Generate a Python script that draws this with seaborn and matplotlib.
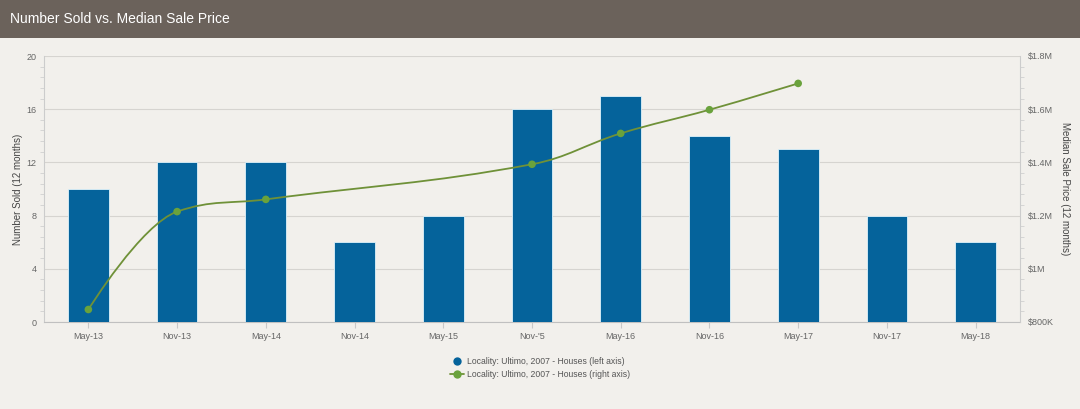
import numpy as np
import pandas as pd
import matplotlib
matplotlib.use("Agg")
import matplotlib.pyplot as plt
from matplotlib.path import Path
from matplotlib.patches import PathPatch, Rectangle
from matplotlib.lines import Line2D
from matplotlib.ticker import FuncFormatter, MultipleLocator
import seaborn as sns

# ---- data ----
categories = ["May-13", "Nov-13", "May-14", "Nov-14", "May-15", "Nov-'5",
              "May-16", "Nov-16", "May-17", "Nov-17", "May-18"]
number_sold = [10, 12, 12, 6, 8, 16, 17, 14, 13, 8, 6]
median_price = [847000, 1215000, 1261000, np.nan, np.nan, 1393000,
                1509000, 1598000, 1697000, np.nan, np.nan]
left_ticks = [0, 4, 8, 12, 16, 20]
right_ticks = [800000, 1000000, 1200000, 1400000, 1600000, 1800000]

BG = "#f2f0ec"
BAR = "#05639b"
LINE = "#6f9138"
MARK = "#6aa23c"
GRID = "#d6d4d0"
TXT = "#666666"

sns.set_theme(style="white")
plt.rcParams["font.family"] = ["Liberation Sans", "DejaVu Sans"]

W, H = 1080, 409
fig = plt.figure(figsize=(W / 100, H / 100), dpi=100, facecolor=BG)

# header bar
fig.patches.append(Rectangle((0, 1 - 38 / H), 1, 38 / H, transform=fig.transFigure,
                             facecolor="#6b625b", edgecolor="none", zorder=0))
fig.text(10 / W, 1 - 19 / H, "Number Sold vs. Median Sale Price", color="white",
         fontsize=10, va="center", ha="left")

AX_L, AX_R = 44, 1020
ax = fig.add_axes([AX_L / W, 1 - 322 / H, (AX_R - AX_L) / W, (322 - 56) / H])
ax.set_facecolor(BG)

df = pd.DataFrame({"cat": categories, "n": number_sold})
sns.barplot(data=df, x="cat", y="n", color=BAR, saturation=1, width=0.46,
            edgecolor="#dff3fb", linewidth=0.6, ax=ax, zorder=3)
ax.set_xlim(-0.5, len(categories) - 0.5)
ax.set_ylim(0, 20)
ax.set_yticks(left_ticks)
ax.yaxis.set_minor_locator(MultipleLocator(0.8))
ax.grid(axis="y", color=GRID, linewidth=0.8, zorder=0)
ax.set_axisbelow(True)
for s in ["top", "right"]:
    ax.spines[s].set_visible(False)
ax.spines["left"].set_color("#cccccc")
ax.spines["left"].set_linewidth(0.8)
ax.spines["bottom"].set_color("#c0c0c0")
ax.spines["bottom"].set_linewidth(0.8)
ax.tick_params(axis="y", which="major", length=0, labelsize=6.5, labelcolor=TXT, pad=5.5)
ax.tick_params(axis="y", which="minor", length=3, color="#d0d0d0", width=0.6, left=True)
ax.tick_params(axis="x", length=4, color="#c8c8c8", width=0.8, labelsize=6.5,
               labelcolor=TXT, pad=3, bottom=True)
ax.set_xlabel("")
ax.set_ylabel("Number Sold (12 months)", fontsize=7, color="#444444", va="center")
ax.yaxis.set_label_coords((18 - AX_L) / (AX_R - AX_L), 0.5)

# right axis
ax2 = ax.twinx()
ax2.set_ylim(800000, 1800000)
ax2.set_yticks(right_ticks)
ax2.yaxis.set_minor_locator(MultipleLocator(40000))
ax2.yaxis.set_major_formatter(FuncFormatter(
    lambda v, p: "$800K" if v < 900000 else ("$1M" if abs(v - 1e6) < 1 else f"${v/1e6:.1f}M")))
for s in ["top", "left", "bottom"]:
    ax2.spines[s].set_visible(False)
ax2.spines["right"].set_color("#cccccc")
ax2.spines["right"].set_linewidth(0.8)
ax2.tick_params(axis="y", which="major", length=0, labelsize=6.5, labelcolor=TXT, pad=5.5)
ax2.tick_params(axis="y", which="minor", length=3, color="#d0d0d0", width=0.6, right=True)
ax2.set_ylabel("Median Sale Price (12 months)", fontsize=7, color="#444444", rotation=270,
               va="center")
ax2.yaxis.set_label_coords((1065 - AX_L) / (AX_R - AX_L), 0.5)
ax2.grid(False)

# Highcharts-like spline through non-null points (connectNulls)
xs = np.array([i for i, v in enumerate(median_price) if not np.isnan(v)], dtype=float)
ys = np.array([v for v in median_price if not np.isnan(v)], dtype=float)
sm, den = 1.5, 2.5
n = len(xs)
lc = [(xs[i], ys[i]) for i in range(n)]
rc = [(xs[i], ys[i]) for i in range(n)]
for i in range(1, n - 1):
    px, py = xs[i], ys[i]
    lx, ly = xs[i - 1], ys[i - 1]
    nx, ny = xs[i + 1], ys[i + 1]
    lcx = (sm * px + lx) / den
    lcy = (sm * py + ly) / den
    rcx = (sm * px + nx) / den
    rcy = (sm * py + ny) / den
    if rcx != lcx:
        corr = ((rcy - lcy) * (rcx - px)) / (rcx - lcx) + py - rcy
        lcy += corr
        rcy += corr
    if lcy > ly and lcy > py:
        lcy = max(ly, py); rcy = 2 * py - lcy
    elif lcy < ly and lcy < py:
        lcy = min(ly, py); rcy = 2 * py - lcy
    if rcy > ny and rcy > py:
        rcy = max(ny, py); lcy = 2 * py - rcy
    elif rcy < ny and rcy < py:
        rcy = min(ny, py); lcy = 2 * py - rcy
    lc[i] = (lcx, lcy)
    rc[i] = (rcx, rcy)
verts = [(xs[0], ys[0])]
codes = [Path.MOVETO]
for i in range(1, n):
    verts += [rc[i - 1], lc[i], (xs[i], ys[i])]
    codes += [Path.CURVE4] * 3
ax2.add_patch(PathPatch(Path(verts, codes), facecolor="none", edgecolor=LINE,
                        linewidth=1.3, zorder=4))
sns.scatterplot(x=xs, y=ys, color=MARK, s=30, edgecolor="none", ax=ax2, zorder=5)

# legend
handles = [
    Line2D([], [], marker="o", linestyle="none", markerfacecolor=BAR,
           markeredgecolor="none", markersize=6),
    Line2D([], [], marker="o", color=LINE, markerfacecolor=MARK,
           markeredgecolor="none", markersize=6, linewidth=1.3),
]
fig.legend(handles, ["Locality: Ultimo, 2007 - Houses (left axis)",
                     "Locality: Ultimo, 2007 - Houses (right axis)"],
           loc="upper center", bbox_to_anchor=(0.5, 1 - 349 / H), frameon=False,
           fontsize=6.2, labelcolor="#555555", handlelength=1.6, handletextpad=0.4,
           labelspacing=0.5)

fig.savefig("out.png", dpi=100, facecolor=BG)
